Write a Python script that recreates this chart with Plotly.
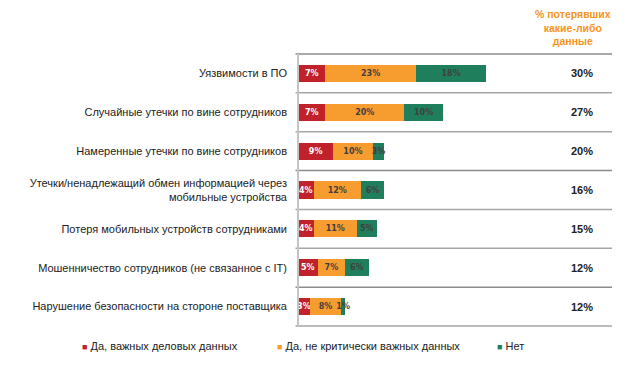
import plotly.graph_objects as go

categories = [
    "Уязвимости в ПО",
    "Случайные утечки по вине сотрудников",
    "Намеренные утечки по вине сотрудников",
    "Утечки/ненадлежащий обмен информацией через<br>мобильные устройства",
    "Потеря мобильных устройств сотрудниками",
    "Мошенничество сотрудников (не связанное с IT)",
    "Нарушение безопасности на стороне поставщика",
]
series_names = ["Да, важных деловых данных", "Да, не критически важных данных", "Нет"]
important = [7, 7, 9, 4, 4, 5, 3]
not_critical = [23, 20, 10, 12, 11, 7, 8]
no_loss = [18, 10, 3, 6, 5, 6, 1]
lost_any = [30, 27, 20, 16, 15, 12, 12]
header = "% потерявших<br>какие-либо<br>данные"

colors = ["#C1212A", "#F79D30", "#1F7F5C"]
text_colors = ["white", "#3f3f3f", "#3f3f3f"]
series_values = [important, not_critical, no_loss]

fig = go.Figure()
for name, vals, col, tcol in zip(series_names, series_values, colors, text_colors):
    fig.add_trace(go.Bar(
        y=categories, x=vals, orientation="h", name=name,
        marker=dict(color=col, line=dict(width=0)),
        width=0.44,
        text=[f"{v}%" for v in vals], textposition="inside",
        insidetextanchor="middle", textangle=0,
        textfont=dict(family="DejaVu Sans", size=8, color=tcol, weight="bold"),
        showlegend=False,
    ))

n = len(categories)
shapes = []
for i in range(n + 1):
    shapes.append(dict(type="line", xref="paper", yref="y",
                       x0=-0.008, x1=1, y0=i - 0.5, y1=i - 0.5,
                       line=dict(color="#8c8c8c" if i % 3 == 0 else "#a6a6a6", width=1.5)))
shapes.append(dict(type="line", xref="paper", yref="y", x0=0, x1=0,
                   y0=-0.5, y1=n - 0.5, line=dict(color="#c4c4c4", width=2)))

annotations = []
for cat, v in zip(categories, lost_any):
    annotations.append(dict(xref="paper", yref="y", x=0.905, y=cat, text=f"{v}%",
                            showarrow=False, xanchor="center",
                            font=dict(family="Liberation Sans", size=11, color="#222", weight="bold")))
annotations.append(dict(xref="paper", yref="paper", x=0.875, y=1.092, text=header,
                        showarrow=False, xanchor="center", yanchor="middle",
                        font=dict(family="Liberation Sans", size=10.5, color="#F7941D", weight="bold")))

leg_x = [80, 275, 495]
for name, col, px in zip(series_names, colors, leg_x):
    xp = (px - 298) / 314
    annotations.append(dict(xref="paper", yref="paper", x=xp, y=-0.07,
                            text=f"<span style='color:{col};font-size:9px'>■</span> {name}",
                            showarrow=False, xanchor="left", yanchor="middle",
                            font=dict(family="Liberation Sans", size=11, color="#222")))

# page body adds 8px margin, so the figure is drawn 8px smaller and offset
fig.update_layout(
    barmode="stack",
    width=625, height=357,
    margin=dict(l=290, r=21, t=45, b=38),
    paper_bgcolor="white", plot_bgcolor="white",
    font=dict(family="Liberation Sans", size=11, color="#222"),
    xaxis=dict(range=[0, 80], visible=False, fixedrange=True),
    yaxis=dict(autorange="reversed", showgrid=False, zeroline=False, showline=False,
               ticks="", ticklabelstandoff=10,
               tickfont=dict(family="Liberation Sans", size=11, color="#222")),
    uniformtext=dict(minsize=8, mode="show"),
    shapes=shapes, annotations=annotations,
    showlegend=False,
)

fig.write_html("out.html")
